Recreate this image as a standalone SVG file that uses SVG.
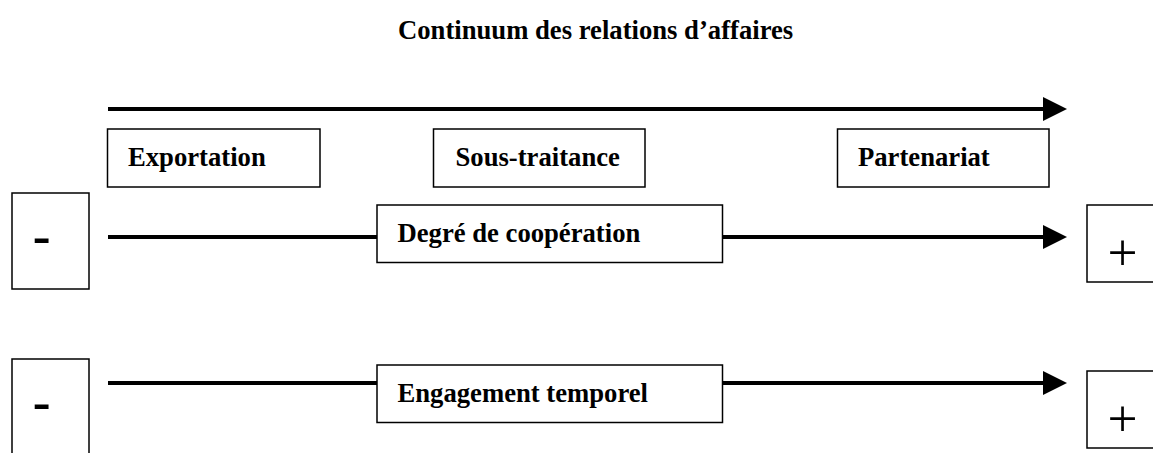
<svg xmlns="http://www.w3.org/2000/svg" width="1153" height="453" viewBox="0 0 1153 453">
  <defs>
    <style>
      .box { fill: #ffffff; stroke: #000000; stroke-width: 1.5; }
      .lbl { font-family: "Liberation Serif", "Times New Roman", serif; font-weight: bold; font-size: 26.67px; fill: #000000; }
      .sign { font-family: "Liberation Serif", "Times New Roman", serif; font-size: 53.3px; fill: #000000; }
      .conn { stroke: #000000; stroke-width: 4; fill: none; marker-end: url(#arrow); }
    </style>
    <marker id="arrow" markerUnits="userSpaceOnUse" markerWidth="24" markerHeight="24" refX="7" refY="12" orient="auto" viewBox="0 0 24 24">
      <path d="M0,0 L24,12 L0,24 Z" fill="#000000"/>
    </marker>
  </defs>
  <rect width="1153" height="453" fill="#ffffff"/>

  <text id="title" class="lbl" x="398" y="39">Continuum des relations d’affaires</text>

  <g id="connectors">
    <line class="conn" x1="108" y1="109" x2="1050" y2="109"/>
    <line class="conn" x1="108" y1="237" x2="1050" y2="237"/>
    <line class="conn" x1="108" y1="383" x2="1050" y2="383"/>
  </g>

  <g id="exportation">
    <rect class="box" x="107.5" y="129" width="212.5" height="58"/>
    <text class="lbl" x="128" y="166">Exportation</text>
  </g>
  <g id="sous-traitance">
    <rect class="box" x="433.5" y="129" width="211.5" height="58"/>
    <text class="lbl" x="455.5" y="166">Sous-traitance</text>
  </g>
  <g id="partenariat">
    <rect class="box" x="837.5" y="129" width="211.5" height="58"/>
    <text class="lbl" x="858" y="166">Partenariat</text>
  </g>

  <g id="minus1">
    <rect class="box" x="12" y="193" width="77" height="96"/>
    <text class="sign" font-weight="bold" x="32.7" y="252.5">-</text>
  </g>
  <g id="cooperation">
    <rect class="box" x="377" y="205" width="345.5" height="57.5"/>
    <text class="lbl" x="397.5" y="242.3">Degré de coopération</text>
  </g>
  <g id="plus1">
    <rect class="box" x="1087" y="205" width="70" height="77"/>
    <text class="sign" x="1107.4" y="269.5">+</text>
  </g>

  <g id="minus2">
    <rect class="box" x="12" y="359" width="77" height="110"/>
    <text class="sign" font-weight="bold" x="32.7" y="418.5">-</text>
  </g>
  <g id="engagement">
    <rect class="box" x="377" y="365" width="345.5" height="57.5"/>
    <text class="lbl" x="397.5" y="401.7">Engagement temporel</text>
  </g>
  <g id="plus2">
    <rect class="box" x="1087" y="371" width="70" height="77"/>
    <text class="sign" x="1107.4" y="435.5">+</text>
  </g>
</svg>
